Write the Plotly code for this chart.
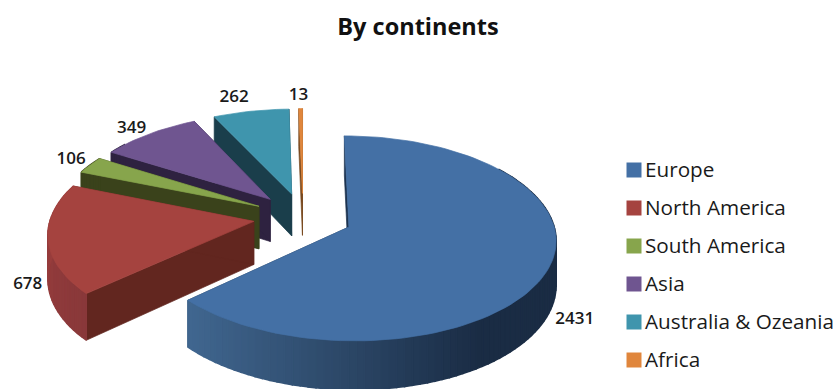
import math
import plotly.graph_objects as go

# Chart data
categories = ["Europe", "North America", "South America", "Asia", "Australia & Ozeania", "Africa"]
values = [2431, 678, 106, 349, 262, 13]

# Slice colours: top face, radial wall, outer rim (light end, dark end)
top_colors = ["#4470a5", "#a5433f", "#87a54c", "#6f5590", "#3f95ad", "#e0863c"]
wall_colors = ["#1d3350", "#62261f", "#3a421b", "#2e2240", "#1a3e4b", "#7a4a20"]
rim_light = ["#40668f", "#a03f3d", "#3a421b", "#2e2240", "#1a3e4b", "#7a4a20"]
rim_dark = ["#1a2c44", "#88383a", "#3a421b", "#2e2240", "#1a3e4b", "#7a4a20"]

# Projection of the exploded pie
WIDTH, HEIGHT = 838, 389
CX, CY = 303, 217      # pie centre on the page
RX, RY = 203, 99       # radii of the ground circle
PERSP = 0.11           # perspective strength
EXPLODE = 0.245        # radial offset of every slice
THICK = 43             # extrusion depth
TEXT = "#1a1a1a"
FONT = "Open Sans"

# Small pixel nudges that keep the value labels clear of their slices
label_nudges = [(0, -2), (7, -1), (2, 0), (-3, 2), (-12, -4), (-2, -3)]


def project(u, v, drop=0.0):
    s = 1.0 / (1.0 - PERSP * v)
    return CX + RX * u * s, CY + (RY * v + drop) * s


def hex_mix(a, b, t):
    t = min(max(t, 0.0), 1.0)
    ca = [int(a[i:i + 2], 16) for i in (1, 3, 5)]
    cb = [int(b[i:i + 2], 16) for i in (1, 3, 5)]
    return "#%02x%02x%02x" % tuple(round(p + (q - p) * t) for p, q in zip(ca, cb))


def polygon(points, color, width=0.7):
    xs = [p[0] for p in points] + [points[0][0]]
    ys = [p[1] for p in points] + [points[0][1]]
    return go.Scatter(x=xs, y=ys, mode="lines", fill="toself", fillcolor=color,
                      line=dict(color=color, width=width), hoverinfo="skip", showlegend=False)


total = sum(values)
spans = []
start = 0.0
for val in values:
    end = start + 360.0 * val / total
    spans.append((start, end))
    start = end

fig = go.Figure()
label_x, label_y = [], []

# Painter's order: the far slices first, Europe last
for idx in reversed(range(len(values))):
    a0, a1 = spans[idx]
    mid = math.radians((a0 + a1) / 2)
    ou, ov = EXPLODE * math.sin(mid), -EXPLODE * math.cos(mid)
    n = max(2, int((a1 - a0) / 2))
    angles = [math.radians(a0 + (a1 - a0) * i / n) for i in range(n + 1)]
    outer = [(ou + math.sin(t), ov - math.cos(t)) for t in angles]

    # Radial walls
    for (u, v) in (outer[0], outer[-1]):
        fig.add_trace(polygon([project(ou, ov), project(u, v), project(u, v, THICK),
                               project(ou, ov, THICK)], wall_colors[idx]))
    # Outer rim, shaded left to right
    for i in range(n):
        (u0, v0), (u1, v1) = outer[i], outer[i + 1]
        if max(v0, v1) < ov - 0.6:
            continue
        xm = project((u0 + u1) / 2, (v0 + v1) / 2)[0]
        shade = (xm - 190) / 290 if idx == 0 else (project(u0, v0)[1] - 180) / 120
        fig.add_trace(polygon([project(u0, v0), project(u1, v1), project(u1, v1, THICK),
                               project(u0, v0, THICK)],
                              hex_mix(rim_light[idx], rim_dark[idx], shade), width=1.5))
    # Top face
    fig.add_trace(polygon([project(ou, ov)] + [project(u, v) for u, v in outer], top_colors[idx]))

    lu, lv = ou + 1.13 * math.sin(mid), ov - 1.13 * math.cos(mid)
    lx, ly = project(lu, lv, THICK if lv > 0 else 0)
    label_x.insert(0, lx + label_nudges[idx][0])
    label_y.insert(0, ly + label_nudges[idx][1])

# Value labels
fig.add_trace(go.Scatter(x=label_x, y=label_y, mode="text", text=[str(v) for v in values],
                         textfont=dict(family=FONT, size=17, weight=600, color=TEXT),
                         hoverinfo="skip", showlegend=False))

# Key: one square and name per continent
for i, (name, color) in enumerate(zip(categories, top_colors)):
    row_y = 170 + 38 * i
    fig.add_trace(go.Scatter(x=[634], y=[row_y], mode="markers", name=name,
                             marker=dict(symbol="square", size=15, color=color),
                             hoverinfo="skip", showlegend=False))
    fig.add_trace(go.Scatter(x=[645], y=[row_y + 2], mode="text", name=name,
                             text=[name], textposition="middle right",
                             textfont=dict(family=FONT, size=20.7, color=TEXT),
                             hoverinfo="skip", showlegend=False))

fig.update_layout(
    width=WIDTH, height=HEIGHT, margin=dict(l=0, r=0, t=0, b=0, autoexpand=False),
    paper_bgcolor="white", plot_bgcolor="white", showlegend=False,
    xaxis=dict(range=[0, WIDTH], visible=False, fixedrange=True),
    yaxis=dict(range=[HEIGHT, 0], visible=False, fixedrange=True),
    title=dict(text="<b>By continents</b>", x=0.4988, xanchor="center", y=0.932, yanchor="middle",
               font=dict(family=FONT, size=23.5, color="#111111")),
)

fig.write_html("out.html", config=dict(displayModeBar=False))
